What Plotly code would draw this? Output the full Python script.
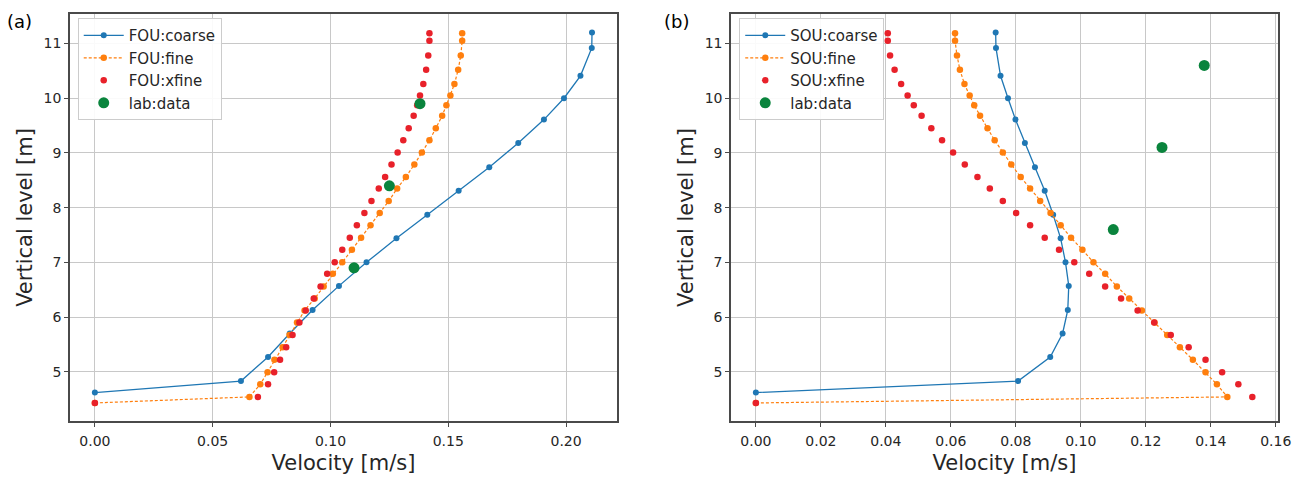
import plotly.graph_objects as go

# ---------------- data ----------------
coarse_y = [4.62, 4.83, 5.27, 5.70, 6.13, 6.57, 7.00, 7.44, 7.87, 8.31, 8.74, 9.18, 9.61, 10.00, 10.41, 10.92, 11.20]
fine_y = [4.43, 4.54, 4.77, 4.99, 5.22, 5.45, 5.67, 5.90, 6.12, 6.34, 6.56, 6.79, 7.00, 7.23, 7.45, 7.68,
          7.90, 8.12, 8.35, 8.56, 8.79, 9.01, 9.23, 9.45, 9.68, 9.87, 10.05, 10.26, 10.52, 10.78, 11.05, 11.19]

fou_coarse_x = [0.0, 0.062, 0.0735, 0.0827, 0.0924, 0.1036, 0.1153, 0.128, 0.1411, 0.1544, 0.1674, 0.1797,
                0.1906, 0.1991, 0.2061, 0.2109, 0.2110]
fou_fine_x = [0.0, 0.0656, 0.0702, 0.0733, 0.0762, 0.0797, 0.0826, 0.0858, 0.0890, 0.0933, 0.0971, 0.1010,
              0.1050, 0.1091, 0.1130, 0.1170, 0.1209, 0.1247, 0.1283, 0.1320, 0.1356, 0.1388, 0.1420, 0.1447,
              0.1474, 0.1492, 0.1509, 0.1526, 0.1542, 0.1553, 0.1559, 0.1559]
fou_xfine_x = [0.0, 0.0692, 0.0735, 0.0761, 0.0786, 0.0812, 0.0839, 0.0868, 0.0895, 0.0929, 0.0958, 0.0986,
               0.1018, 0.1050, 0.1082, 0.1112, 0.1144, 0.1174, 0.1205, 0.1232, 0.1259, 0.1285, 0.1309, 0.1332,
               0.1353, 0.1368, 0.1380, 0.1394, 0.1406, 0.1415, 0.1420, 0.1420]

sou_coarse_x = [0.0, 0.0807, 0.0906, 0.0944, 0.0960, 0.0963, 0.0953, 0.0938, 0.0915, 0.0889, 0.0859, 0.0828,
                0.0799, 0.0776, 0.0753, 0.0739, 0.0738]
sou_fine_x = [0.0, 0.1451, 0.1419, 0.1384, 0.1345, 0.1305, 0.1266, 0.1227, 0.1188, 0.1149, 0.1111, 0.1075,
              0.1039, 0.1005, 0.0970, 0.0938, 0.0907, 0.0875, 0.0844, 0.0815, 0.0786, 0.0760, 0.0735, 0.0713,
              0.0690, 0.0672, 0.0658, 0.0642, 0.0628, 0.0619, 0.0613, 0.0613]
sou_xfine_x = [0.0, 0.1528, 0.1485, 0.1435, 0.1384, 0.1332, 0.1277, 0.1226, 0.1175, 0.1124, 0.1075, 0.1026,
               0.0980, 0.0933, 0.0889, 0.0844, 0.0801, 0.0760, 0.0720, 0.0682, 0.0643, 0.0607, 0.0573, 0.0540,
               0.0510, 0.0486, 0.0467, 0.0447, 0.0427, 0.0413, 0.0406, 0.0406]

lab_x = [0.110, 0.125, 0.138]
lab_y_fou = [6.9, 8.4, 9.9]
lab_y_sou = [7.6, 9.1, 10.6]

left_xticks = [0.0, 0.05, 0.10, 0.15, 0.20]
right_xticks = [0.0, 0.02, 0.04, 0.06, 0.08, 0.10, 0.12, 0.14, 0.16]
yticks = [5, 6, 7, 8, 9, 10, 11]

# ---------------- style ----------------
BLUE = "#1f77b4"
ORANGE = "#ff7f0e"
RED = "#e8212a"
GREEN = "#0a843d"
FONT = "DejaVu Sans"
TXT = "#262626"

fig = go.Figure()


def add_panel(prefix, cx, fx, xfx, laby, xa, ya, leg):
    fig.add_trace(go.Scatter(x=cx, y=coarse_y, mode="lines+markers", name=f"{prefix}:coarse",
                             line=dict(color=BLUE, width=1.3), marker=dict(color=BLUE, size=6),
                             xaxis=xa, yaxis=ya, legend=leg))
    fig.add_trace(go.Scatter(x=fx, y=fine_y, mode="lines+markers", name=f"{prefix}:fine",
                             line=dict(color=ORANGE, width=1.2, dash="3px,2px"),
                             marker=dict(color=ORANGE, size=6.5),
                             xaxis=xa, yaxis=ya, legend=leg))
    fig.add_trace(go.Scatter(x=xfx, y=fine_y, mode="markers", name=f"{prefix}:xfine",
                             marker=dict(color=RED, size=6.5),
                             xaxis=xa, yaxis=ya, legend=leg))
    fig.add_trace(go.Scatter(x=lab_x, y=laby, mode="markers", name="lab:data",
                             marker=dict(color=GREEN, size=11),
                             xaxis=xa, yaxis=ya, legend=leg))


add_panel("FOU", fou_coarse_x, fou_fine_x, fou_xfine_x, lab_y_fou, "x", "y", "legend")
add_panel("SOU", sou_coarse_x, sou_fine_x, sou_xfine_x, lab_y_sou, "x2", "y2", "legend2")

axis_common = dict(
    showgrid=True, gridcolor="#c8c8c8", gridwidth=1.2,
    showline=True, linecolor="#4a4a4a", linewidth=1.5, mirror=True,
    ticks="outside", ticklen=4, tickwidth=1.2, tickcolor="#4a4a4a",
    zeroline=False, automargin=False,
    tickfont=dict(family=FONT, size=14, color=TXT),
)
title_font = dict(family=FONT, size=21, color=TXT)
legend_common = dict(y=0.99, xanchor="left", yanchor="top", itemwidth=40,
                     bgcolor="rgba(255,255,255,0.9)", bordercolor="#cccccc", borderwidth=1,
                     font=dict(family=FONT, size=15, color=TXT), tracegroupgap=0)

fig.update_layout(
    width=1308, height=477,
    paper_bgcolor="white", plot_bgcolor="white",
    margin=dict(l=70, r=30, t=14, b=56, autoexpand=False),
    font=dict(family=FONT, color=TXT),
    xaxis=dict(domain=[0, 0.4528], range=[-0.01055, 0.2216], tickvals=left_xticks,
               tickformat=".2f", anchor="y", ticklabelstandoff=2,
               title=dict(text="Velocity [m/s]", font=title_font, standoff=8),
               **axis_common),
    yaxis=dict(domain=[0, 1], range=[4.10, 11.54], tickvals=yticks, anchor="x",
               title=dict(text="Vertical level [m]", font=title_font, standoff=5),
               **axis_common),
    xaxis2=dict(domain=[0.5472, 1], range=[-0.00765, 0.1607], tickvals=right_xticks,
                tickformat=".2f", anchor="y2", ticklabelstandoff=2,
                title=dict(text="Velocity [m/s]", font=title_font, standoff=8),
                **axis_common),
    yaxis2=dict(domain=[0, 1], range=[4.10, 11.54], tickvals=yticks, anchor="x2",
                title=dict(text="Vertical level [m]", font=title_font, standoff=5),
                **axis_common),
    legend=dict(x=0.0064, **legend_common),
    legend2=dict(x=0.554, **legend_common),
    showlegend=True,
    annotations=[
        dict(text="(a)", x=-0.0416, y=0.9816, xref="paper", yref="paper", showarrow=False,
             xanchor="center", yanchor="middle", font=dict(family=FONT, size=18, color="black")),
        dict(text="(b)", x=0.5022, y=0.9816, xref="paper", yref="paper", showarrow=False,
             xanchor="center", yanchor="middle", font=dict(family=FONT, size=18, color="black")),
    ],
)

fig.write_html("out.html")
